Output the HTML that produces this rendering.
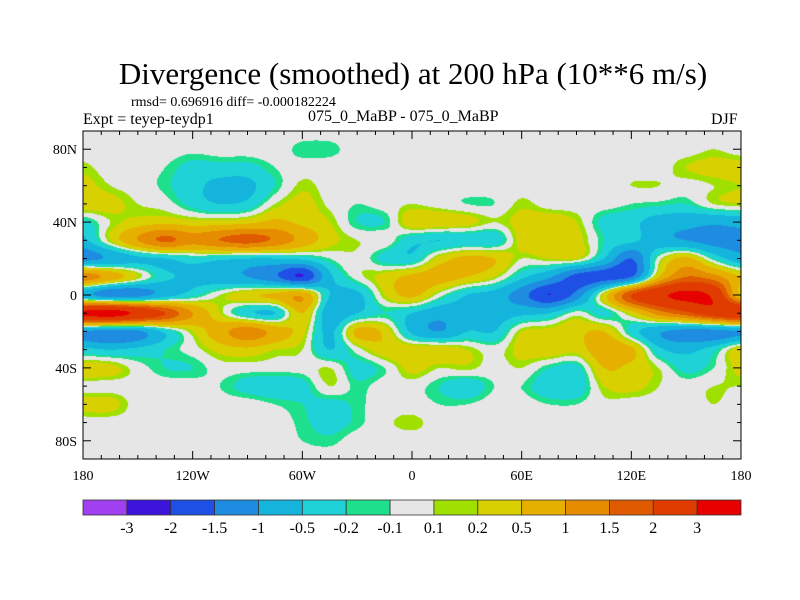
<!DOCTYPE html>
<html><head><meta charset="utf-8">
<style>
body{margin:0;background:#fff;width:800px;height:600px;overflow:hidden;position:relative;font-family:"Liberation Serif","Times New Roman",serif;}
.t{position:absolute;white-space:nowrap;color:#000;font-family:"Liberation Serif","Times New Roman",serif;}
canvas{position:absolute;left:83px;top:131px;}
svg{position:absolute;left:0;top:0;}
</style></head><body>
<div class="t" style="left:0;width:826px;text-align:center;top:56px;font-size:31px;">Divergence (smoothed) at 200 hPa (10**6 m/s)</div>
<div class="t" style="left:131px;top:95px;font-size:14px;">rmsd= 0.696916 diff= -0.000182224</div>
<div class="t" style="left:83px;top:111px;font-size:16px;">Expt = teyep-teydp1</div>
<div class="t" style="left:308px;top:108px;font-size:16px;">075_0_MaBP - 075_0_MaBP</div>
<div class="t" style="left:711px;top:111px;font-size:16px;">DJF</div>
<canvas id="map" width="658" height="328"></canvas>
<svg id="ov" width="800" height="600"></svg>
<script>
const lons=[-180,-165,-150,-135,-120,-105,-90,-75,-60,-45,-30,-15,0,15,30,45,60,75,90,105,120,135,150,165,180];
const lats=[90,80,70,60,50,40,30,20,10,0,-10,-20,-30,-40,-50,-60,-70,-80,-90];
const r90=[0,0,0,0,0,0,0,0,0,0,0,0,0,0,0,0,0,0,0,0,0,0,0,0,0];
const r80=[0,0,0,0,-0.05,0,0,0,-0.15,-0.15,0,0,0,0,0,0,0,0,0,0,0,0,0,0.1,0];
const r70=[0.15,0,0,-0.1,-0.3,-0.3,-0.3,-0.1,0,0,0,0,0,0,0,0,0,0,0,0,0,0,0.2,0.3,0.3];
const r60=[0.3,0.1,0,-0.15,-0.4,-0.6,-0.6,-0.2,0.15,0,0,0,0,0,0,0,0,0,0,0,0.1,0.1,0,0.1,0.2];
const r50=[0.4,0.3,0.1,0,-0.3,-0.5,-0.4,0.1,0.3,0.05,-0.1,0,0.1,0,-0.1,-0.1,0.15,0,0,0,-0.1,-0.15,-0.2,0.1,0.2];
const r40=[-0.3,0.1,0.3,0.4,0.3,0.3,0.4,0.6,0.4,0.2,-0.2,-0.2,0.4,0.4,0.3,0.1,0.3,0.4,0.2,-0.3,-0.4,-0.7,-0.8,-0.9,-0.8];
const r30=[-0.6,0.2,1.0,1.6,1.2,1.5,1.7,1.4,0.8,0.3,0.1,0.05,-0.4,-0.5,-0.4,-0.4,0.3,0.4,0.3,-0.2,-0.4,-0.8,-1.0,-1.2,-1.2];
const r20=[-1.2,-0.9,-0.6,-0.5,-0.3,-0.4,-0.5,-0.5,-0.4,-0.1,0.05,-0.3,-0.4,0.3,0.6,0.5,0.1,0.2,0.2,-0.5,-1.5,0.0,0.6,-0.2,-0.8];
const r10=[1.3,0.8,0.2,-0.4,-0.6,-0.8,-1.0,-1.4,-2.0,-0.6,0.0,0.3,0.6,0.7,0.5,0.2,-0.4,-0.9,-1.7,-1.8,-1.5,0.5,1.5,1.2,0.5];
const r0=[-0.8,-1.3,-1.2,-0.7,-0.3,0.1,0.4,0.6,0.9,-0.5,-0.6,0.2,0.6,0.0,-0.5,-0.7,-1.3,-2.0,-1.3,0.3,2.0,2.8,3.2,2.8,0.5];
const rm10=[3.2,3.4,2.8,2.0,1.0,0.2,-0.4,-0.5,0.5,-0.8,-0.5,-0.2,-0.5,-0.8,-0.6,-0.7,-0.6,-0.5,0.0,-0.3,0.3,1.2,1.8,2.5,2.8];
const rm20=[-1.0,-1.3,-1.1,-0.4,0.2,0.8,1.3,0.8,0.3,-0.6,0.6,0.4,-0.6,-1.0,-0.5,-0.5,0.2,0.3,0.4,0.5,-0.3,-0.9,-1.2,-1.2,-1.0];
const rm30=[-0.4,-0.5,-0.4,-0.2,0.0,0.3,0.4,0.2,0.1,-0.5,0.0,0.4,0.4,0.4,0.2,0.0,0.3,0.4,0.3,0.8,0.6,-0.4,-0.6,-0.3,0.4];
const rm40=[0.4,0.3,0.0,-0.2,-0.2,0.0,0.0,0.0,0.0,0.1,-0.3,-0.1,0.3,0.1,0.15,0.0,0.1,-0.2,-0.3,0.5,0.4,0.1,-0.3,-0.1,0.3];
const rm50=[0,0,0,0,0,-0.1,-0.3,-0.4,-0.3,0.1,-0.15,0,0,-0.2,-0.4,-0.1,-0.1,-0.4,-0.4,0.2,0.3,0.1,0,0.1,0.1];
const rm60=[0.3,0.3,0,0,0,0,0,-0.1,-0.2,-0.3,-0.15,0,0,-0.1,-0.1,0,0,-0.1,-0.1,0.05,0,0,0,0.1,0];
const rm70=[0,0,0,0,0,0,0,0,-0.15,-0.3,-0.15,0.05,0.15,0,0,0,0,0,0,0,0,0,0,0,0];
const rm80=[0,0,0,0,0,0,0,0,-0.1,-0.15,0,0,0,0,0,0,0,0,0,0,0,0,0,0,0];
const rm90=[0,0,0,0,0,0,0,0,0,0,0,0,0,0,0,0,0,0,0,0,0,0,0,0,0];
const grid=[r90,r80,r70,r60,r50,r40,r30,r20,r10,r0,rm10,rm20,rm30,rm40,rm50,rm60,rm70,rm80,rm90];
const levels=[-3,-2,-1.5,-1,-0.5,-0.2,-0.1,0.1,0.2,0.5,1,1.5,2,3];
const levelLabels=["-3","-2","-1.5","-1","-0.5","-0.2","-0.1","0.1","0.2","0.5","1","1.5","2","3"];
const colors=["#a040f0","#3c14dc","#1e50e6","#1e8ce0","#14b4dc","#1ed2d8","#1ee08c","#e6e6e6","#a0e000","#d8d000","#e6b000","#e68c00","#e05a00","#e03c00","#e60000"];
const xTicks=[-180,-120,-60,0,60,120,180];
const xLabels=["180","120W","60W","0","60E","120E","180"];
const yTicks=[80,40,0,-40,-80];
const yLabels=["80N","40N","0","40S","80S"];

const X0=83,X1=741,Y0=131,Y1=459;
const xs=lon=>X0+(lon+180)/360*(X1-X0);
const ys=lat=>Y0+(90-lat)/180*(Y1-Y0);
function cr(p0,p1,p2,p3,t){return p1+0.5*t*(p2-p0+t*(2*p0-5*p1+4*p2-p3+t*(3*(p1-p2)+p3-p0)));}
function val(gi,gj){
  const nr=grid.length,nc=lons.length;
  const i=Math.floor(gi),j=Math.floor(gj),ti=gi-i,tj=gj-j;
  const g=(a,b)=>grid[Math.max(0,Math.min(nr-1,a))][Math.max(0,Math.min(nc-1,b))];
  const rows=[];
  for(let k=-1;k<=2;k++)rows.push(cr(g(i+k,j-1),g(i+k,j),g(i+k,j+1),g(i+k,j+2),tj));
  return cr(rows[0],rows[1],rows[2],rows[3],ti);
}
const cv=document.getElementById('map'),ctx=cv.getContext('2d');
const W=cv.width,H=cv.height;
const img=ctx.createImageData(W,H);
const rgb=colors.map(c=>[parseInt(c.substr(1,2),16),parseInt(c.substr(3,2),16),parseInt(c.substr(5,2),16)]);
for(let py=0;py<H;py++){
  const lat=90-(py+0.5)/H*180;
  const gi=(90-lat)/10;
  for(let px=0;px<W;px++){
    const lon=-180+(px+0.5)/W*360;
    const gj=(lon+180)/15;
    const v=val(gi,gj);
    let k=0;while(k<levels.length&&v>=levels[k])k++;
    const o=(py*W+px)*4,c=rgb[k];
    img.data[o]=c[0];img.data[o+1]=c[1];img.data[o+2]=c[2];img.data[o+3]=255;
  }
}
ctx.putImageData(img,0,0);

const ov=document.getElementById('ov');const NS='http://www.w3.org/2000/svg';
function mk(tag,attrs,parent){const e=document.createElementNS(NS,tag);for(const k in attrs)e.setAttribute(k,attrs[k]);(parent||ov).appendChild(e);return e;}
let fr=mk('rect',{x:X0,y:Y0,width:X1-X0,height:Y1-Y0,fill:'none',stroke:'#000','stroke-width':1});


for(let lon=-180;lon<=180;lon+=10){
  const major=xTicks.includes(lon),L=major?8:4,x=xs(lon);
  let t=mk('line',{x1:x,x2:x,y1:Y1,y2:Y1-L,stroke:'#000'});
  
  
  let t2=mk('line',{x1:x,x2:x,y1:Y0,y2:Y0+L,stroke:'#000'});
  
  
}
for(let lat=-90;lat<=90;lat+=10){
  const major=yTicks.includes(lat),L=major?8:4,y=ys(lat);
  let t=mk('line',{x1:X0,x2:X0+L,y1:y,y2:y,stroke:'#000'});
  
  
  let t2=mk('line',{x1:X1,x2:X1-L,y1:y,y2:y,stroke:'#000'});
  
  
}
xTicks.forEach((lon,i)=>{
  const t=mk('text',{x:xs(lon),y:480,'text-anchor':'middle','font-size':14,'font-family':'Liberation Serif, serif'});
  t.textContent=xLabels[i];
  
  
});
yTicks.forEach((lat,i)=>{
  const t=mk('text',{x:77,y:ys(lat)+5,'text-anchor':'end','font-size':14,'font-family':'Liberation Serif, serif'});
  t.textContent=yLabels[i];
  
  
});
const bw=(X1-X0)/colors.length;
colors.forEach((c,i)=>{
  const r=mk('rect',{x:X0+i*bw,y:500,width:bw,height:15,fill:c,stroke:'#333','stroke-width':0.8});
  
  
});
levelLabels.forEach((s,i)=>{
  const t=mk('text',{x:X0+(i+1)*bw,y:533,'text-anchor':'middle','font-size':16,'font-family':'Liberation Serif, serif'});
  t.textContent=s;
  
  
});
</script>
</body></html>
